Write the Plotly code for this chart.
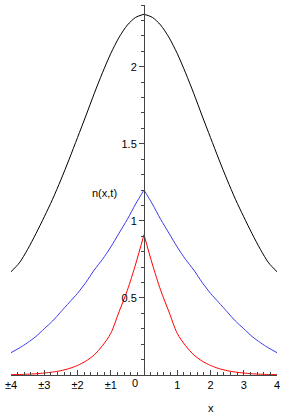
import plotly.graph_objects as go

# x positions (right half; curves are symmetric about x=0)
x_half = [0, 0.25, 0.5, 0.75, 1, 1.25, 1.5, 1.75, 2, 2.25, 2.5, 2.75, 3, 3.25, 3.5, 3.75, 4]
black_half = [2.34, 2.32, 2.27, 2.19, 2.085, 1.96, 1.824, 1.68, 1.54, 1.40, 1.266, 1.14, 1.026, 0.917, 0.815, 0.727, 0.67]
blue_half = [1.20, 1.11, 1.01, 0.92, 0.83, 0.75, 0.68, 0.60, 0.53, 0.47, 0.41, 0.35, 0.30, 0.25, 0.21, 0.175, 0.145]
red_half = [0.91, 0.72, 0.55, 0.41, 0.27, 0.19, 0.13, 0.09, 0.062, 0.042, 0.028, 0.019, 0.013, 0.008, 0.005, 0.003, 0.002]

x_tick_vals = [-4, -3, -2, -1, 1, 2, 3, 4]
x_tick_text = ["±4", "±3", "±2", "±1", "1", "2", "3", "4"]
y_tick_vals = [0.5, 1, 1.5, 2]
y_tick_text = ["0.5", "1", "1.5", "2"]

fig = go.Figure()
for ys, col in [(black_half, "#000000"), (blue_half, "#3a3af0"), (red_half, "#ff0000")]:
    # right half and mirrored left half, drawn separately to keep the peak shape
    for sign in (1, -1):
        fig.add_trace(go.Scatter(x=[sign * v for v in x_half], y=ys, mode="lines",
                                 line=dict(color=col, width=1, shape="spline", smoothing=0.8),
                                 hoverinfo="skip", showlegend=False))

font = dict(family="Liberation Sans, Arial, sans-serif", size=11, color="#000")

fig.update_layout(
    width=288, height=417,
    margin=dict(l=6, r=11, t=5, b=42),
    paper_bgcolor="white", plot_bgcolor="white",
    font=font,
    xaxis=dict(range=[-4, 4], showgrid=False, zeroline=False,
               showline=True, linecolor="#444", linewidth=1,
               tickvals=x_tick_vals, ticktext=x_tick_text,
               ticks="inside", ticklen=5, tickcolor="#444", tickwidth=1,
               ticklabeloverflow="allow",
               minor=dict(dtick=0.2, tick0=0, ticks="inside", ticklen=3,
                          tickcolor="#444", showgrid=False),
               tickfont=font),
    yaxis=dict(range=[0, 2.4], showgrid=False, zeroline=False,
               anchor="free", position=0.5,
               showline=True, linecolor="#444", linewidth=1,
               tickvals=y_tick_vals, ticktext=y_tick_text,
               ticks="outside", ticklen=5, tickcolor="#444", tickwidth=1,
               minor=dict(dtick=0.1, tick0=0, ticks="outside", ticklen=3,
                          tickcolor="#444", showgrid=False),
               tickfont=font),
    annotations=[
        dict(x=0, y=0, xref="x", yref="y", text="0", showarrow=False,
             xanchor="right", yanchor="top", xshift=-4, yshift=0, font=font),
        dict(x=2, y=0, xref="x", yref="y", text="x", showarrow=False,
             xanchor="center", yanchor="middle", yshift=-33, font=font),
        dict(x=0, y=1.18, xref="x", yref="y", text="n(x,t)", showarrow=False,
             xanchor="right", yanchor="middle", xshift=-25, font=font),
    ],
)

fig.write_html("out.html")
